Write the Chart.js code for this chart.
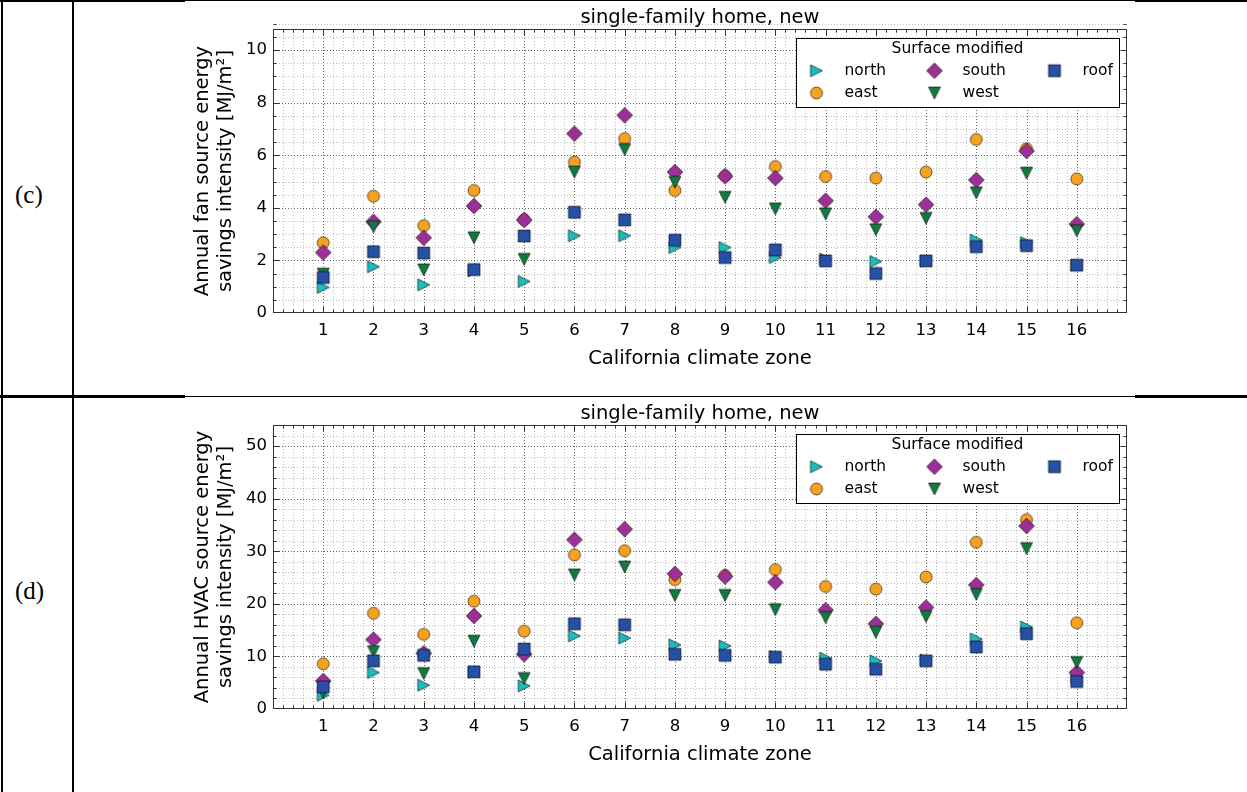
<!DOCTYPE html>
<html>
<head>
<meta charset="utf-8">
<script src="https://cdn.jsdelivr.net/npm/chart.js@4.4.1/dist/chart.umd.min.js"></script>
<style>
  body { margin: 0; background: #fff; }
  #page { position: relative; width: 1247px; height: 792px; overflow: hidden; background: #fff; }
  .ln { position: absolute; background: #000; }
  .lab { position: absolute; left: 15px; font: 25px "Liberation Serif", serif; line-height: 30px; }
  canvas { position: absolute; left: 185px; }
</style>
</head>
<body>
<div id="page">
  <div class="ln" style="left:1px;top:0;width:2px;height:792px"></div>
  <div class="ln" style="left:72px;top:0;width:2px;height:792px"></div>
  <div class="ln" style="left:0;top:0;width:185px;height:2px"></div>
  <div class="ln" style="left:185px;top:0;width:950px;height:1px"></div>
  <div class="ln" style="left:1135px;top:0;width:112px;height:2px"></div>
  <div class="ln" style="left:0;top:395px;width:185px;height:3px"></div>
  <div class="ln" style="left:185px;top:396px;width:950px;height:1px"></div>
  <div class="ln" style="left:1135px;top:395px;width:112px;height:3px"></div>
  <div class="lab" style="top:180px">(c)</div>
  <div class="lab" style="top:576px">(d)</div>
  <canvas id="fanChart" width="950" height="396" style="top:0"></canvas>
  <canvas id="hvacChart" width="950" height="396" style="top:396px"></canvas>
</div>
<script>
const zones = [1, 2, 3, 4, 5, 6, 7, 8, 9, 10, 11, 12, 13, 14, 15, 16];
const surfaces = ["north", "east", "south", "west", "roof"];

// (c) annual fan source energy savings intensity, MJ/m2
const fanNorth = [0.97, 1.76, 1.07, 1.6, 1.2, 2.94, 2.94, 2.49, 2.49, 2.11, 2.05, 1.96, 1.98, 2.77, 2.68, 1.82];
const fanEast = [2.67, 4.44, 3.32, 4.66, 3.55, 5.74, 6.63, 4.66, 5.22, 5.57, 5.19, 5.13, 5.36, 6.6, 6.25, 5.1];
const fanSouth = [2.3, 3.47, 2.86, 4.07, 3.54, 6.82, 7.52, 5.36, 5.2, 5.13, 4.27, 3.66, 4.12, 5.06, 6.16, 3.38];
const fanWest = [1.48, 3.28, 1.64, 2.86, 2.04, 5.36, 6.22, 4.97, 4.4, 3.96, 3.77, 3.17, 3.6, 4.57, 5.32, 3.13];
const fanRoof = [1.35, 2.33, 2.28, 1.65, 2.93, 3.83, 3.54, 2.77, 2.11, 2.4, 1.98, 1.5, 1.98, 2.52, 2.56, 1.82];

// (d) annual HVAC source energy savings intensity, MJ/m2
const hvacNorth = [2.61, 6.93, 4.52, 7.0, 4.39, 13.9, 13.5, 12.2, 12.0, 10.0, 9.68, 9.16, 9.3, 13.3, 15.6, 6.0];
const hvacEast = [8.59, 18.2, 14.2, 20.5, 14.8, 29.3, 30.1, 24.6, 25.4, 26.5, 23.3, 22.8, 25.1, 31.7, 36.0, 16.4];
const hvacSouth = [5.34, 13.2, 10.6, 17.7, 10.4, 32.2, 34.2, 25.7, 25.2, 24.1, 18.8, 16.2, 19.3, 23.6, 34.8, 6.93];
const hvacWest = [3.12, 10.9, 6.74, 12.9, 5.8, 25.5, 27.0, 21.6, 21.6, 18.9, 17.4, 14.6, 17.6, 21.8, 30.5, 8.84];
const hvacRoof = [4.2, 9.16, 10.2, 7.06, 11.4, 16.2, 16.0, 10.4, 10.2, 9.86, 8.52, 7.57, 9.16, 11.8, 14.3, 5.22];

const xTicks = [0, 17];
const fanTicks = [0, 10.8, 2];
const hvacTicks = [0, 54, 10];

const font = "'DejaVu Sans'";
Chart.defaults.color = "#000";
Chart.defaults.font.family = font;

const colors = {
  north: "#1bbcbc",
  east: "#f7a21e",
  south: "#9e2f96",
  west: "#117a40",
  roof: "#2550a6",
};

// matplotlib-like marker glyphs: > o D v s
function marker(name) {
  const c = document.createElement("canvas");
  c.width = 20;
  c.height = 20;
  const g = c.getContext("2d");
  g.beginPath();
  if (name === "north") {
    g.moveTo(4, 4); g.lineTo(16, 10); g.lineTo(4, 16);
  } else if (name === "east") {
    g.arc(10, 10, 6, 0, Math.PI * 2);
  } else if (name === "south") {
    g.moveTo(10, 2.2); g.lineTo(17.8, 10); g.lineTo(10, 17.8); g.lineTo(2.2, 10);
  } else if (name === "west") {
    g.moveTo(4, 4); g.lineTo(16, 4); g.lineTo(10, 16);
  } else {
    g.rect(4, 4, 12, 12);
  }
  g.closePath();
  g.fillStyle = colors[name];
  g.fill();
  g.lineWidth = 0.8;
  g.strokeStyle = "rgba(0,0,0,0.75)";
  g.stroke();
  return c;
}
const markers = {};
surfaces.forEach((s) => (markers[s] = marker(s)));

// dotted major/minor grid, box and inward ticks
const gridFrame = {
  id: "gridFrame",
  beforeDatasetsDraw(chart, args, o) {
    const { ctx, chartArea: a, scales: { x, y } } = chart;
    ctx.save();
    ctx.lineWidth = 1;
    ctx.setLineDash([1, 2]);
    const line = (x1, y1, x2, y2) => {
      ctx.beginPath(); ctx.moveTo(x1, y1); ctx.lineTo(x2, y2); ctx.stroke();
    };
    for (let i = 1; i < 85; i++) {
      const px = Math.round(x.getPixelForValue(i / 5)) + 0.5;
      ctx.strokeStyle = i % 5 === 0 ? "rgba(0,0,0,0.6)" : "rgba(0,0,0,0.25)";
      line(px, a.top, px, a.bottom);
    }
    const n = Math.round(y.max / o.minor);
    const per = Math.round(o.major / o.minor);
    for (let j = 1; j <= n; j++) {
      const py = Math.round(y.getPixelForValue(j * o.minor)) + 0.5;
      ctx.strokeStyle = j % per === 0 ? "rgba(0,0,0,0.6)" : "rgba(0,0,0,0.25)";
      line(a.left, py, a.right, py);
    }
    ctx.restore();
  },
  afterDatasetsDraw(chart, args, o) {
    const { ctx, chartArea: a, scales: { x, y } } = chart;
    ctx.save();
    ctx.strokeStyle = "#333";
    ctx.lineWidth = 1;
    const line = (x1, y1, x2, y2) => {
      ctx.beginPath(); ctx.moveTo(x1, y1); ctx.lineTo(x2, y2); ctx.stroke();
    };
    const L = Math.round(a.left) + 0.5, R = Math.round(a.right) - 0.5;
    const T = Math.round(a.top) + 0.5, B = Math.round(a.bottom) - 0.5;
    for (let i = 1; i < 85; i++) {
      const px = Math.round(x.getPixelForValue(i / 5)) + 0.5;
      const t = i % 5 === 0 ? 6 : 3;
      line(px, B, px, B - t);
      line(px, T, px, T + t);
    }
    const n = Math.round(y.max / o.minor);
    const per = Math.round(o.major / o.minor);
    for (let j = 1; j <= n; j++) {
      const py = Math.round(y.getPixelForValue(j * o.minor)) + 0.5;
      const t = j % per === 0 ? 6 : 3;
      line(L, py, L + t, py);
      line(R, py, R - t, py);
    }
    ctx.strokeRect(L, T, R - L, B - T);
    ctx.restore();
  },
};

const legendBox = {
  id: "legendBox",
  afterDatasetsDraw(chart) {
    const { ctx, chartArea: a } = chart;
    const w = 323, h = 69;
    const L = Math.round(a.right - 8 - w), T = Math.round(a.top + 9);
    ctx.save();
    ctx.fillStyle = "#fff";
    ctx.fillRect(L, T, w, h);
    ctx.strokeStyle = "#000";
    ctx.lineWidth = 1;
    ctx.strokeRect(L + 0.5, T + 0.5, w, h);
    ctx.fillStyle = "#000";
    ctx.font = "15.5px " + font;
    ctx.textBaseline = "middle";
    ctx.textAlign = "center";
    ctx.fillText("Surface modified", L + w / 2, T + 10.5);
    const cols = [20.5, 138.5, 258.5];
    const rows = [32.7, 55];
    ctx.textAlign = "left";
    chart.data.datasets.forEach((d, k) => {
      const cx = L + cols[Math.floor(k / 2)], cy = T + rows[k % 2];
      ctx.drawImage(d.pointStyle, cx - 10, cy - 10);
      ctx.fillText(d.label, cx + 28, cy);
    });
    ctx.restore();
  },
};

function makeChart(id, yTitle, series, yTicks, yMinor) {
  new Chart(document.getElementById(id), {
    type: "scatter",
    data: {
      datasets: surfaces.map((s, k) => ({
        label: s,
        data: zones.map((z, i) => ({ x: z, y: series[k][i] })),
        pointStyle: markers[s],
        pointRadius: 6,
        pointHoverRadius: 6,
        order: 5 - k,
      })),
    },
    options: {
      responsive: false,
      animation: false,
      events: [],
      layout: { padding: { left: 0, right: 7, top: 0, bottom: 0 } },
      plugins: {
        legend: { display: false },
        tooltip: { enabled: false },
        title: {
          display: true,
          fullSize: false,
          text: "single-family home, new",
          color: "#000",
          font: { size: 19.5, weight: "normal", lineHeight: 1.18 },
          padding: { top: 6, bottom: 0 },
        },
        gridFrame: { minor: yMinor, major: yTicks[2] },
      },
      scales: {
        x: {
          type: "linear",
          min: xTicks[0],
          max: xTicks[1],
          grid: { display: false, drawTicks: false },
          border: { display: false },
          ticks: {
            stepSize: 1,
            includeBounds: false,
            autoSkip: false,
            maxRotation: 0,
            padding: 8,
            font: { size: 16.5 },
            callback: (v) => (v >= zones[0] && v <= zones[zones.length - 1] ? String(v) : ""),
          },
          title: {
            display: true,
            text: "California climate zone",
            font: { size: 19.5, lineHeight: 1.18 },
            padding: { top: 0, bottom: 26 },
          },
          afterFit(s) { s.height = 83; },
        },
        y: {
          type: "linear",
          min: yTicks[0],
          max: yTicks[1],
          grid: { display: false, drawTicks: false },
          border: { display: false },
          ticks: { stepSize: yTicks[2], includeBounds: false, padding: 6, font: { size: 16.5 } },
          title: {
            display: true,
            text: yTitle,
            font: { size: 19.5, lineHeight: 1.18 },
            padding: { top: 6.5, bottom: 0 },
          },
          afterFit(s) { s.width = 88; },
        },
      },
    },
    plugins: [gridFrame, legendBox],
  });
}

makeChart("fanChart", ["Annual fan source energy", "savings intensity [MJ/m²]"],
  [fanNorth, fanEast, fanSouth, fanWest, fanRoof], fanTicks, 0.5);
makeChart("hvacChart", ["Annual HVAC source energy", "savings intensity [MJ/m²]"],
  [hvacNorth, hvacEast, hvacSouth, hvacWest, hvacRoof], hvacTicks, 2);
</script>
</body>
</html>
